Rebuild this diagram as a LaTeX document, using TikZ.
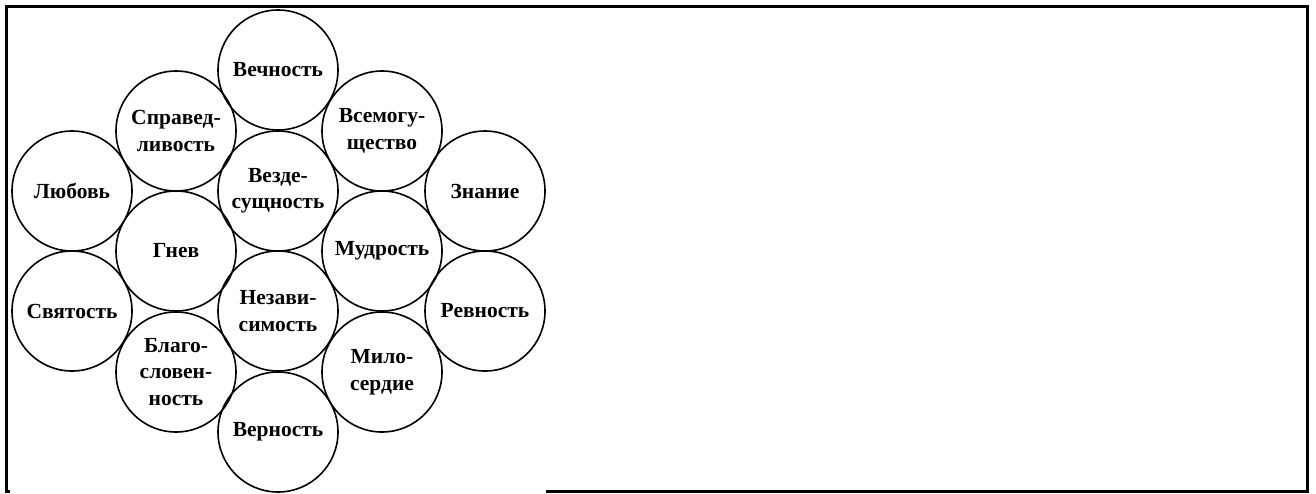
\documentclass[tikz,border=0pt]{standalone}
\usepackage{fontspec}
\setmainfont{Liberation Serif}
\begin{document}
\begin{tikzpicture}[x=1pt,y=-1pt,
  attr/.style={draw, circle, line width=1.6pt, minimum size=120pt, inner sep=0pt,
    align=center, font=\fontsize{21.5}{26.5}\selectfont\bfseries},
  frameline/.style={line width=3pt}]
\useasboundingbox (0,0) rectangle (1316,493);
\draw[frameline] (546,491) -- (1307,491) -- (1307,6) -- (6,6) -- (6,491) -- (10,491);
\node[attr] (vech) at (278,70) {Вечность};
\node[attr] (sprav) at (176,131) {Справед-\\ливость};
\node[attr] (vsemog) at (382,131) {Всемогу-\\щество};
\node[attr] (lub) at (72,191) {Любовь};
\node[attr] (vezde) at (278,191) {Везде-\\сущность};
\node[attr] (znan) at (485,191) {Знание};
\node[attr] (gnev) at (176,251) {Гнев};
\node[attr] (mudr) at (382,251) {Мудрость};
\node[attr] (svyat) at (72,311) {Святость};
\node[attr] (nezav) at (278,311) {Незави-\\симость};
\node[attr] (revn) at (485,311) {Ревность};
\node[attr] (blago) at (176,372) {Благо-\\словен-\\ность};
\node[attr] (milo) at (382,372) {Мило-\\сердие};
\node[attr] (vern) at (278,432) {Верность};
\end{tikzpicture}
\end{document}
